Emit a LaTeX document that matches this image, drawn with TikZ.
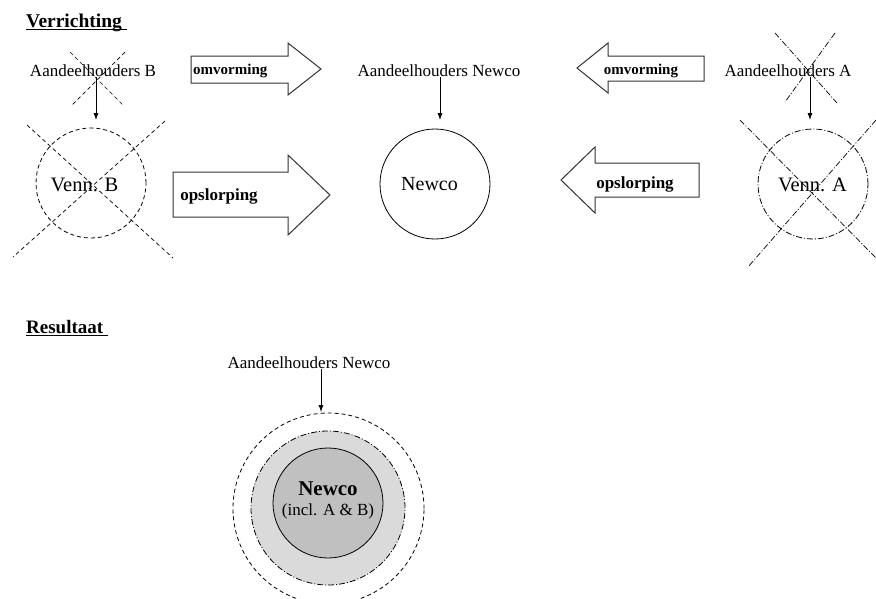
\documentclass[tikz,border=0pt]{standalone}
\usepackage{fontspec}
\setmainfont{Liberation Serif}
\usetikzlibrary{arrows.meta}
\definecolor{ringgray}{HTML}{DADADA}
\definecolor{coregray}{HTML}{C0C0C0}
\begin{document}
\begin{tikzpicture}[x=1pt,y=-1pt,
 lbl/.style={inner sep=1pt, anchor=base, font=\fontsize{17}{19}\selectfont},
 big/.style={inner sep=0pt, anchor=base, font=\fontsize{20.5}{23}\selectfont},
 ttl/.style={inner sep=0pt, anchor=base west, font=\fontsize{19.5}{22}\selectfont\bfseries},
 arr/.style={-{Latex[length=7pt,width=5pt]}, line width=0.8pt},
 circ/.style={circle, draw, minimum size=110pt, inner sep=0pt, line width=0.8pt},
 dsh/.style={dash pattern=on 4pt off 3pt},
 dshdot/.style={dash pattern=on 6pt off 2pt on 1pt off 2pt},
 crossline/.style={line width=0.7pt},
 blk/.style={draw=black!80, line width=1pt, fill=white, line join=miter},
 blksmall/.style={inner sep=0pt, anchor=base, font=\fontsize{15}{17}\selectfont\bfseries},
 blkbig/.style={inner sep=0pt, anchor=base, font=\fontsize{17}{19}\selectfont\bfseries}
]
\useasboundingbox (0,0) rectangle (876,598);

% ---- Verrichting ----
\node[ttl] (t1) at (26,27) {Verrichting};
\draw[line width=1pt] ([yshift=-2.5pt]t1.base west) -- ([xshift=5pt,yshift=-2.5pt]t1.base east);

% top row labels
\node[lbl] (aB) at (93,76) {Aandeelhouders B};
\node[lbl] (aN) at (439,76) {Aandeelhouders Newco};
\node[lbl] (aA) at (788,76) {Aandeelhouders A};

% circles
\node[circ, dsh] (vB) at (91,183) {};
\node[big] (vBt) at (84.5,191) {Venn. B};
\node[circ] (nw) at (435,184) {};
\node[big, font=\fontsize{20}{23}\selectfont] (nwt) at (429.5,190) {Newco};
\node[circ, dshdot] (vA) at (813,184) {};
\node[big] (vAt) at (812.5,191) {Venn. A};

% down arrows
\coordinate (tB) at (96,120);
\coordinate (tN) at (440,120);
\coordinate (tA) at (810,120);
\draw[arr] (aB.south -| tB) -- (tB);
\draw[arr] (aN.south -| tN) -- (tN);
\draw[arr] (aA.south -| tA) -- (tA);

% crosses B (dashed)
\draw[crossline, dsh] (70,52) -- (123,105);
\draw[crossline, dsh] (125,52) -- (72,105);
\draw[crossline, dsh] (27,125) -- (173,258);
\draw[crossline, dsh] (165,121) -- (13,257);

% crosses A (dash dot)
\draw[crossline, dshdot] (775,33) -- (837,103);
\draw[crossline, dshdot] (835,33) -- (785,102);
\draw[crossline, dshdot] (740,120) -- (876,258);
\draw[crossline, dshdot] (876,120) -- (748,267);

% block arrows
\draw[blk] (191,56) -- (288,56) -- (288,43) -- (321,69) -- (288,95) -- (288,83) -- (191,83) -- cycle;
\node[blksmall, anchor=base west] (om1) at (193,74) {omvorming};
\draw[blk] (173,172) -- (288,172) -- (288,155) -- (330,195) -- (288,235) -- (288,217) -- (173,217) -- cycle;
\node[blkbig] (op1) at (219,200) {opslorping};
\draw[blk] (704,56) -- (608,56) -- (608,43) -- (577,68) -- (608,93) -- (608,81) -- (704,81) -- cycle;
\node[blksmall] (om2) at (641,74) {omvorming};
\draw[blk] (699,163) -- (595,163) -- (595,147) -- (561,180) -- (595,213) -- (595,197) -- (699,197) -- cycle;
\node[blkbig] (op2) at (635,188) {opslorping};

% ---- Resultaat ----
\node[ttl, font=\fontsize{19}{21}\selectfont\bfseries] (t2) at (26,333) {Resultaat};
\draw[line width=1pt] ([yshift=-2.5pt]t2.base west) -- ([xshift=5pt,yshift=-2.5pt]t2.base east);

\node[lbl] (aR) at (309,368) {Aandeelhouders Newco};
\node[circ, dsh, minimum size=191pt] (outer) at (328.5,508.5) {};
\node[circ, dshdot, fill=ringgray, minimum size=154pt] (mid) at (328,508) {};
\node[circ, fill=coregray] (core) at (328,503) {};
\node[inner sep=0pt, anchor=base, font=\fontsize{21}{23}\selectfont\bfseries] (nwR) at (328,495) {Newco};
\node[inner sep=0pt, anchor=base, font=\fontsize{17}{19}\selectfont] (incl) at (328,515) {(incl. A \& B)};
\coordinate (tR) at (321,412);
\draw[arr] (aR.south -| tR) -- (tR);
\end{tikzpicture}
\end{document}
